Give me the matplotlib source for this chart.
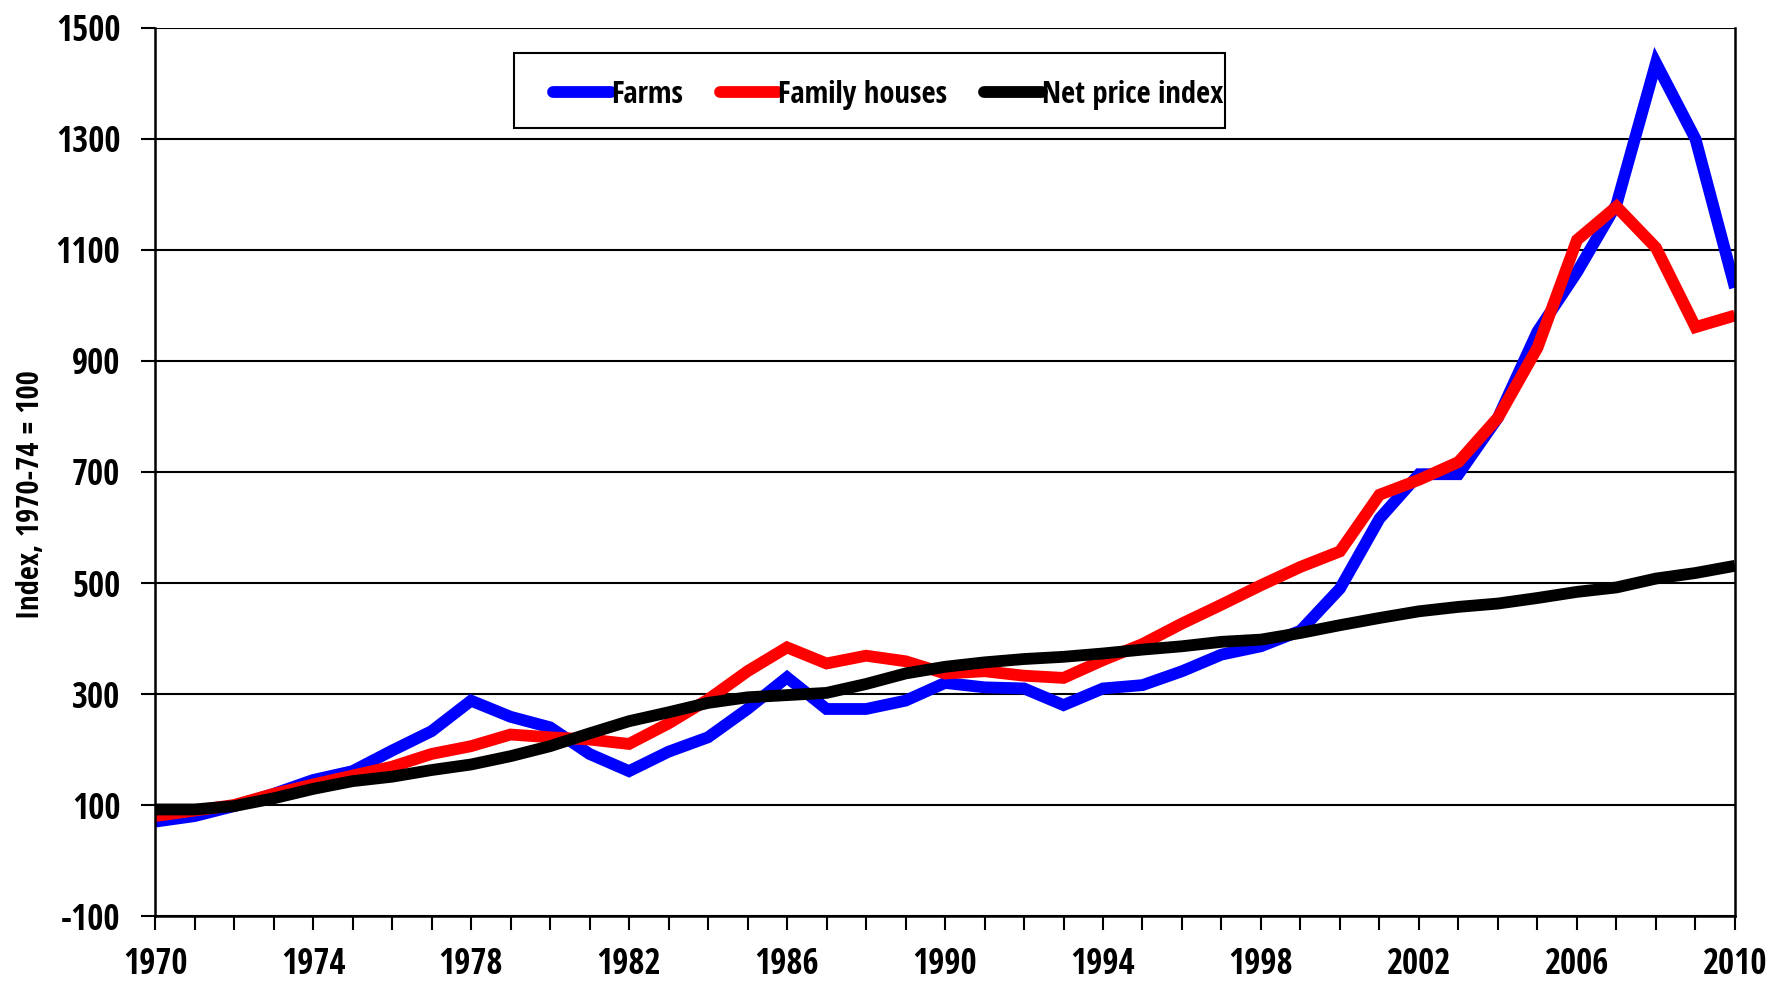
import matplotlib
matplotlib.use("Agg")
import matplotlib.pyplot as plt
from matplotlib.patches import Rectangle

years = list(range(1970, 2011))

farms = [70, 80, 98, 120, 145, 161, 198, 233, 288, 259,
         240, 192, 161, 196, 222, 273, 330, 273, 273, 288,
         320, 312, 310, 280, 310, 316, 341, 371, 386, 414,
         490, 616, 696, 696, 798, 953, 1060, 1182, 1437, 1300,
         1032]

family_houses = [80, 90, 100, 120, 137, 153, 169, 192, 206, 227,
                 222, 218, 210, 247, 290, 341, 384, 355, 369, 359,
                 337, 341, 333, 329, 361, 390, 427, 461, 496, 529,
                 557, 659, 686, 718, 798, 924, 1118, 1178, 1104, 961,
                 982]

net_price_index = [92, 92, 98, 112, 129, 143, 151, 163, 173, 188,
                   206, 229, 251, 267, 284, 294, 298, 302, 318, 337,
                   349, 357, 363, 367, 373, 380, 386, 394, 398, 410,
                   424, 437, 449, 457, 463, 473, 484, 492, 508, 518,
                   531]

series_labels = ["Farms", "Family houses", "Net price index"]
series_colors = ["#0000ff", "#ff0000", "#000000"]
ylabel_text = "Index, 1970-74 = 100"
yticks = list(range(-100, 1501, 200))
xticks = list(range(1970, 2011, 4))

plt.rcParams["font.family"] = ["Open Sans Condensed", "DejaVu Sans"]
plt.rcParams["font.stretch"] = "condensed"
plt.rcParams["font.weight"] = "bold"
plt.rcParams["axes.unicode_minus"] = False

fig = plt.figure(figsize=(17.78, 9.82), dpi=100)
ax = fig.add_axes([0.0872, 0.0672, 0.8886, 0.9043])

for vals, lab, col in zip([farms, family_houses, net_price_index], series_labels, series_colors):
    ax.plot(years, vals, color=col, lw=8.5, label=lab,
            solid_capstyle="butt", solid_joinstyle="miter")

ax.set_xlim(1970, 2010)
ax.set_ylim(-100, 1500)
ax.set_yticks(yticks)
ax.set_xticks(xticks)
ax.set_xticks(years, minor=True)

ax.grid(axis="y", color="black", lw=1.5)
ax.set_axisbelow(True)
for side in ["left", "bottom", "right"]:
    ax.spines[side].set_linewidth(1.8)
ax.spines["top"].set_visible(False)

ax.tick_params(axis="y", which="major", length=10, width=1.5, pad=15, labelsize=25)
ax.tick_params(axis="x", which="both", length=10, width=1.5)
ax.tick_params(axis="x", which="major", pad=12, labelsize=25)
ax.set_ylabel(ylabel_text, fontsize=22, fontweight="bold")
ax.yaxis.set_label_coords(-0.069, 0.474)

# legend entries without a frame; the box is drawn separately
leg = ax.legend(loc="center right", bbox_to_anchor=(0.676, 0.925), ncol=3,
                frameon=False, handlelength=1.9, handletextpad=0.0,
                columnspacing=1.2, borderpad=0.0, borderaxespad=0.0,
                prop={"size": 22, "weight": "bold"})
for h in leg.get_lines():
    h.set_solid_capstyle("round")
ax.add_patch(Rectangle((0.2272, 0.8874), 0.4500, 0.0844, transform=ax.transAxes,
                       facecolor="white", edgecolor="black", lw=1.5, zorder=4))
leg.set_zorder(5)

fig.savefig("out.png", dpi=100, facecolor="white")
